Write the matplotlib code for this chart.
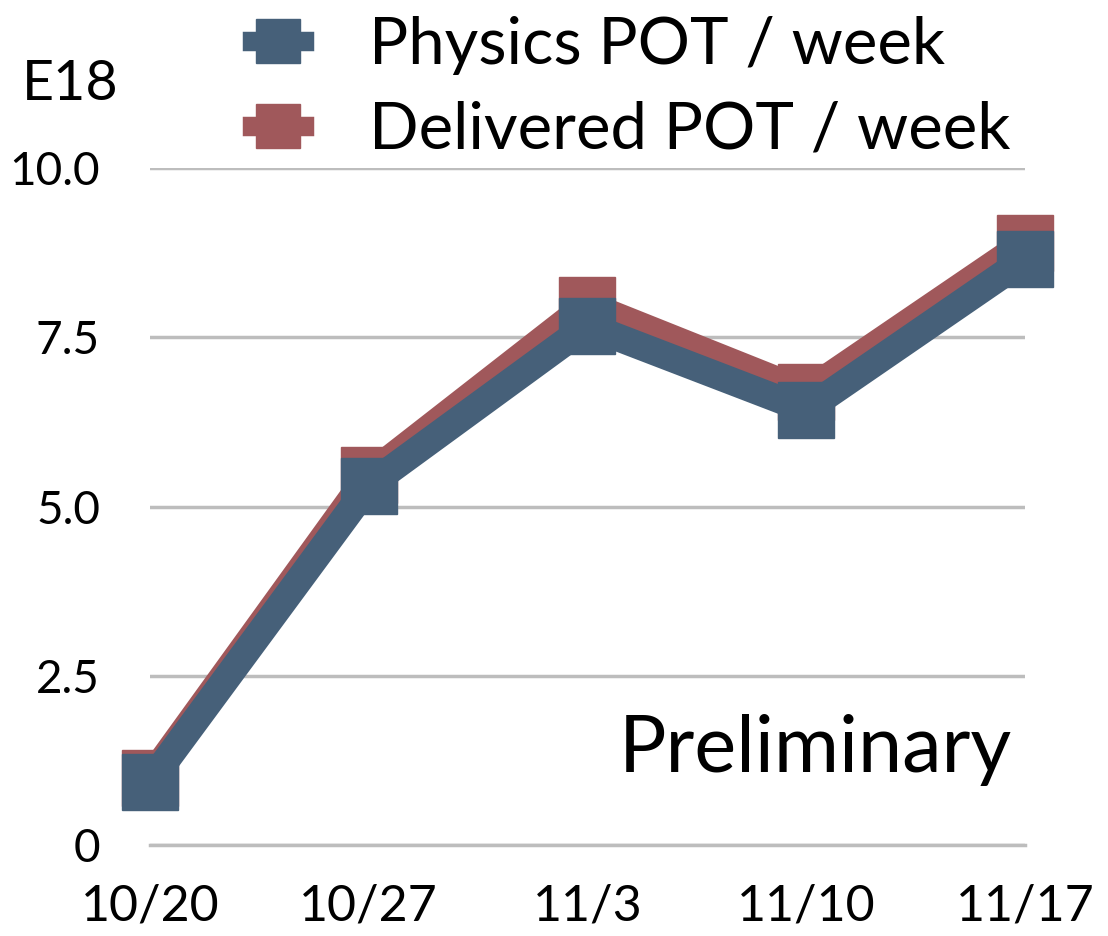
import matplotlib
matplotlib.use("Agg")
import matplotlib.pyplot as plt

weeks = ["10/20", "10/27", "11/3", "11/10", "11/17"]
physics = [0.93, 5.31, 7.67, 6.43, 8.65]
delivered = [0.99, 5.46, 7.98, 6.69, 8.89]
y_ticks = [0, 2.5, 5.0, 7.5, 10.0]
y_labels = ["0", "2.5", "5.0", "7.5", "10.0"]

plt.rcParams["font.family"] = ["Lato", "DejaVu Sans"]

blue = "#466079"
red = "#a0585b"

fig = plt.figure(figsize=(11.08, 9.36), dpi=100)
ax = fig.add_axes([0.1354, 0.0972, 0.925 - 0.1354, 0.8205 - 0.0972])

x = list(range(len(weeks)))
ax.plot(x, delivered, color=red, lw=20, marker="s", ms=40, clip_on=False,
        solid_joinstyle="miter", label="Delivered POT / week", zorder=3)
ax.plot(x, physics, color=blue, lw=20, marker="s", ms=40, clip_on=False,
        solid_joinstyle="miter", label="Physics POT / week", zorder=4)

ax.set_xlim(0, 4)
ax.set_ylim(0, 10)
ax.set_xticks(x)
ax.set_xticklabels(weeks, fontsize=36)
ax.set_yticks(y_ticks)
ax.set_yticklabels(y_labels, fontsize=33)
ax.tick_params(axis="x", length=0, pad=28)
ax.tick_params(axis="y", length=0, pad=36)
ax.grid(axis="y", color="#bdbdbd", lw=2.5)
ax.set_axisbelow(True)
for s in ["top", "right", "left"]:
    ax.spines[s].set_visible(False)
ax.spines["bottom"].set_color("#bdbdbd")
ax.spines["bottom"].set_linewidth(2.5)

fig.text(70 / 1108, 1 - 85 / 936, "E18", fontsize=40, ha="center", va="center")
ax.text(0.985, 0.14, "Preliminary", transform=ax.transAxes, fontsize=57,
        ha="right", va="center")

h, l = ax.get_legend_handles_labels()
leg = fig.legend(h[::-1], l[::-1], loc="upper left",
                 bbox_to_anchor=(193 / 1108, 1.046), frameon=False, fontsize=47,
                 handlelength=0.8, markerscale=0.8, labelspacing=0.4,
                 handletextpad=1.0)
for line in leg.get_lines():
    line.set_linewidth(14)

fig.savefig("out.png", dpi=100)
